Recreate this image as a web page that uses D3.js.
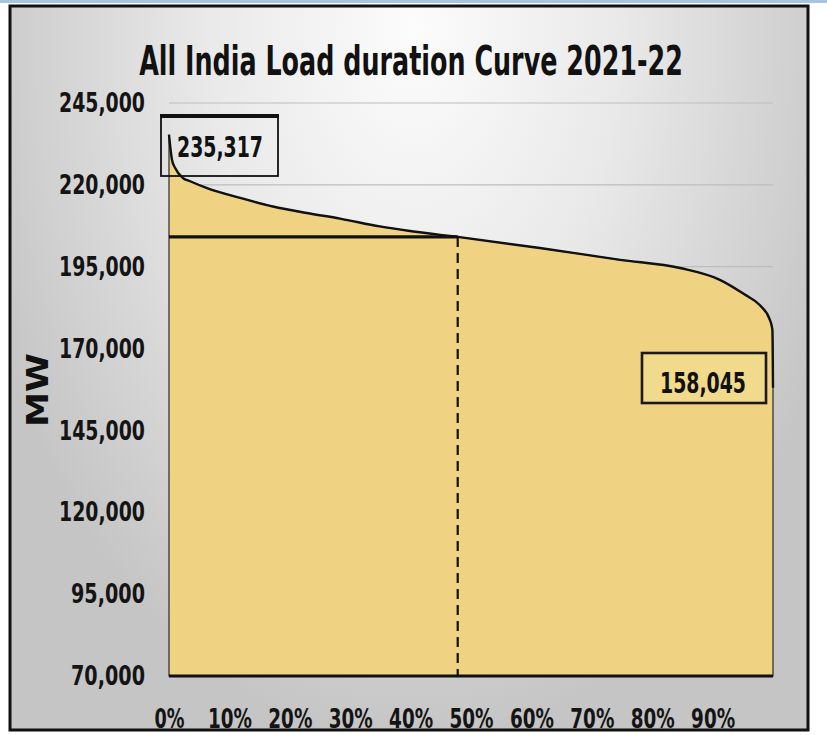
<!DOCTYPE html>
<html>
<head>
<meta charset="utf-8">
<script src="https://cdn.jsdelivr.net/npm/d3@7"></script>
<style>
  html, body { margin: 0; padding: 0; background: #ffffff; }
  svg { display: block; }
</style>
</head>
<body>
<div id="chart"></div>
<script>
// ---- data ----
const titleText = "All India Load duration Curve 2021-22";
const yAxisTitle = "MW";
const durationPct = [0, 0.5, 1, 2.3, 3.5, 6.3, 11.8, 17.2, 22.8, 28.3, 34.9, 39.9, 47.8, 61.4, 74.7, 84.6, 91.2, 95.4, 97.8, 99.5, 99.9, 100];
const loadMW = [235317, 227600, 225200, 222100, 221100, 219000, 216000, 213400, 211400, 209700, 207300, 205900, 204100, 200700, 197100, 194600, 191000, 186400, 183300, 178700, 175700, 158045];
const averageMW = 204100;
const averagePct = 47.8;
const peakLabel = "235,317";
const minLabel = "158,045";
const yTicks = [70000, 95000, 120000, 145000, 170000, 195000, 220000, 245000];
const xTicks = [0, 10, 20, 30, 40, 50, 60, 70, 80, 90];

// ---- layout ----
const W = 827, H = 735;
const FONT = '"Liberation Sans Narrow","Arial Narrow","DejaVu Sans Condensed",sans-serif';

const svg = d3.select("#chart").append("svg")
  .attr("width", W).attr("height", H);

const defs = svg.append("defs");
const grad = defs.append("radialGradient")
  .attr("id", "bg")
  .attr("gradientUnits", "userSpaceOnUse")
  .attr("cx", 0).attr("cy", 0).attr("r", 460)
  .attr("gradientTransform", "translate(413,30) scale(1,1.55)");
grad.append("stop").attr("offset", 0).attr("stop-color", "#fcfcfc");
grad.append("stop").attr("offset", 0.45).attr("stop-color", "#e9e9e9");
grad.append("stop").attr("offset", 1).attr("stop-color", "#c5c5c5");

// top blue band
svg.append("rect").attr("x", 0).attr("y", 0).attr("width", W).attr("height", 3)
  .attr("fill", "#a9c3e3");

// chart background
svg.append("rect").attr("x", 10).attr("y", 6).attr("width", 798).attr("height", 724)
  .attr("fill", "url(#bg)");

const x = d3.scaleLinear().domain([0, 100]).range([169, 773]);
const y = d3.scaleLinear().domain([70000, 245000]).range([676, 103]);

// gridlines
svg.append("g").selectAll("line").data(yTicks.filter(d => d > 70000)).join("line")
  .attr("x1", x(0)).attr("x2", x(100))
  .attr("y1", d => y(d)).attr("y2", d => y(d))
  .attr("stroke", "#bdbdbd").attr("stroke-width", 1.2);

// area
const pts = durationPct.map((p, i) => ({p, v: loadMW[i]}));
const area = d3.area().x(d => x(d.p)).y0(y(70000)).y1(d => y(d.v)).curve(d3.curveMonotoneX);
const line = d3.line().x(d => x(d.p)).y(d => y(d.v)).curve(d3.curveMonotoneX);

svg.append("path").datum(pts).attr("d", area)
  .attr("fill", "#efd282").attr("stroke", "#2a2a2a").attr("stroke-width", 1.2);
svg.append("path").datum(pts).attr("d", line)
  .attr("fill", "none").attr("stroke", "#111").attr("stroke-width", 2.4);

// baseline
svg.append("line").attr("x1", x(0)).attr("x2", x(100))
  .attr("y1", y(70000)).attr("y2", y(70000))
  .attr("stroke", "#111").attr("stroke-width", 3);

// average line
svg.append("line").attr("x1", x(0)).attr("x2", x(averagePct))
  .attr("y1", y(averageMW)).attr("y2", y(averageMW))
  .attr("stroke", "#111").attr("stroke-width", 3.2);
svg.append("line").attr("x1", x(averagePct)).attr("x2", x(averagePct))
  .attr("y1", y(averageMW)).attr("y2", y(70000))
  .attr("stroke", "#111").attr("stroke-width", 2.2)
  .attr("stroke-dasharray", "10,6");

// y axis
const yAxis = svg.append("g").attr("transform", "translate(145,0)")
  .call(d3.axisLeft(y).tickValues(yTicks).tickFormat(d3.format(",")).tickSize(0).tickPadding(0));
yAxis.select(".domain").remove();
yAxis.selectAll("text")
  .attr("font-family", FONT).attr("font-size", 27).attr("font-weight", "bold").attr("fill", "#141414")
  .attr("textLength", 86).attr("lengthAdjust", "spacingAndGlyphs");
yAxis.selectAll("text").filter(d => d < 100000).attr("textLength", 74);

// x axis
const xAxis = svg.append("g").attr("transform", "translate(0,709)")
  .call(d3.axisBottom(x).tickValues(xTicks).tickFormat(d => d + "%").tickSize(0).tickPadding(0));
xAxis.select(".domain").remove();
xAxis.selectAll("text")
  .attr("font-family", FONT).attr("font-size", 27).attr("font-weight", "bold").attr("fill", "#141414")
  .attr("dy", "0.71em")
  .attr("textLength", d => d === 0 ? 30 : 44).attr("lengthAdjust", "spacingAndGlyphs");

// title (horizontally condensed via transform to fit reference width)
const title = svg.append("text")
  .attr("text-anchor", "middle")
  .attr("font-family", FONT).attr("font-size", 40).attr("font-weight", "bold").attr("fill", "#111")
  .text(titleText);
const natural = title.node().getComputedTextLength() || 544;
const sx = Math.min(1, 544 / natural);
title.attr("transform", `translate(411,75) scale(${sx},1)`);

// y axis title
svg.append("text").attr("transform", "translate(48,390) rotate(-90)")
  .attr("text-anchor", "middle")
  .attr("font-family", FONT).attr("font-size", 30).attr("font-weight", "bold").attr("fill", "#111")
  .attr("textLength", 74).attr("lengthAdjust", "spacingAndGlyphs")
  .text(yAxisTitle);

// peak label box
svg.append("rect").attr("x", 161).attr("y", 116).attr("width", 117).attr("height", 60)
  .attr("fill", "none").attr("stroke", "#111").attr("stroke-width", 1.8);
svg.append("line").attr("x1", 160).attr("x2", 279).attr("y1", 116).attr("y2", 116)
  .attr("stroke", "#111").attr("stroke-width", 4);
svg.append("text").attr("x", 220).attr("y", 157).attr("text-anchor", "middle")
  .attr("font-family", FONT).attr("font-size", 29).attr("font-weight", "bold").attr("fill", "#111")
  .attr("textLength", 86).attr("lengthAdjust", "spacingAndGlyphs")
  .text(peakLabel);

// min label box
svg.append("rect").attr("x", 642).attr("y", 353).attr("width", 124).attr("height", 50)
  .attr("fill", "#f2da8d").attr("stroke", "#1a1a1a").attr("stroke-width", 2.6);
svg.append("text").attr("x", 703).attr("y", 393).attr("text-anchor", "middle")
  .attr("font-family", FONT).attr("font-size", 28).attr("font-weight", "bold").attr("fill", "#111")
  .attr("textLength", 86).attr("lengthAdjust", "spacingAndGlyphs")
  .text(minLabel);

// frame
svg.append("rect").attr("x", 10).attr("y", 6).attr("width", 798).attr("height", 724)
  .attr("fill", "none").attr("stroke", "#111").attr("stroke-width", 3);
</script>
</body>
</html>
